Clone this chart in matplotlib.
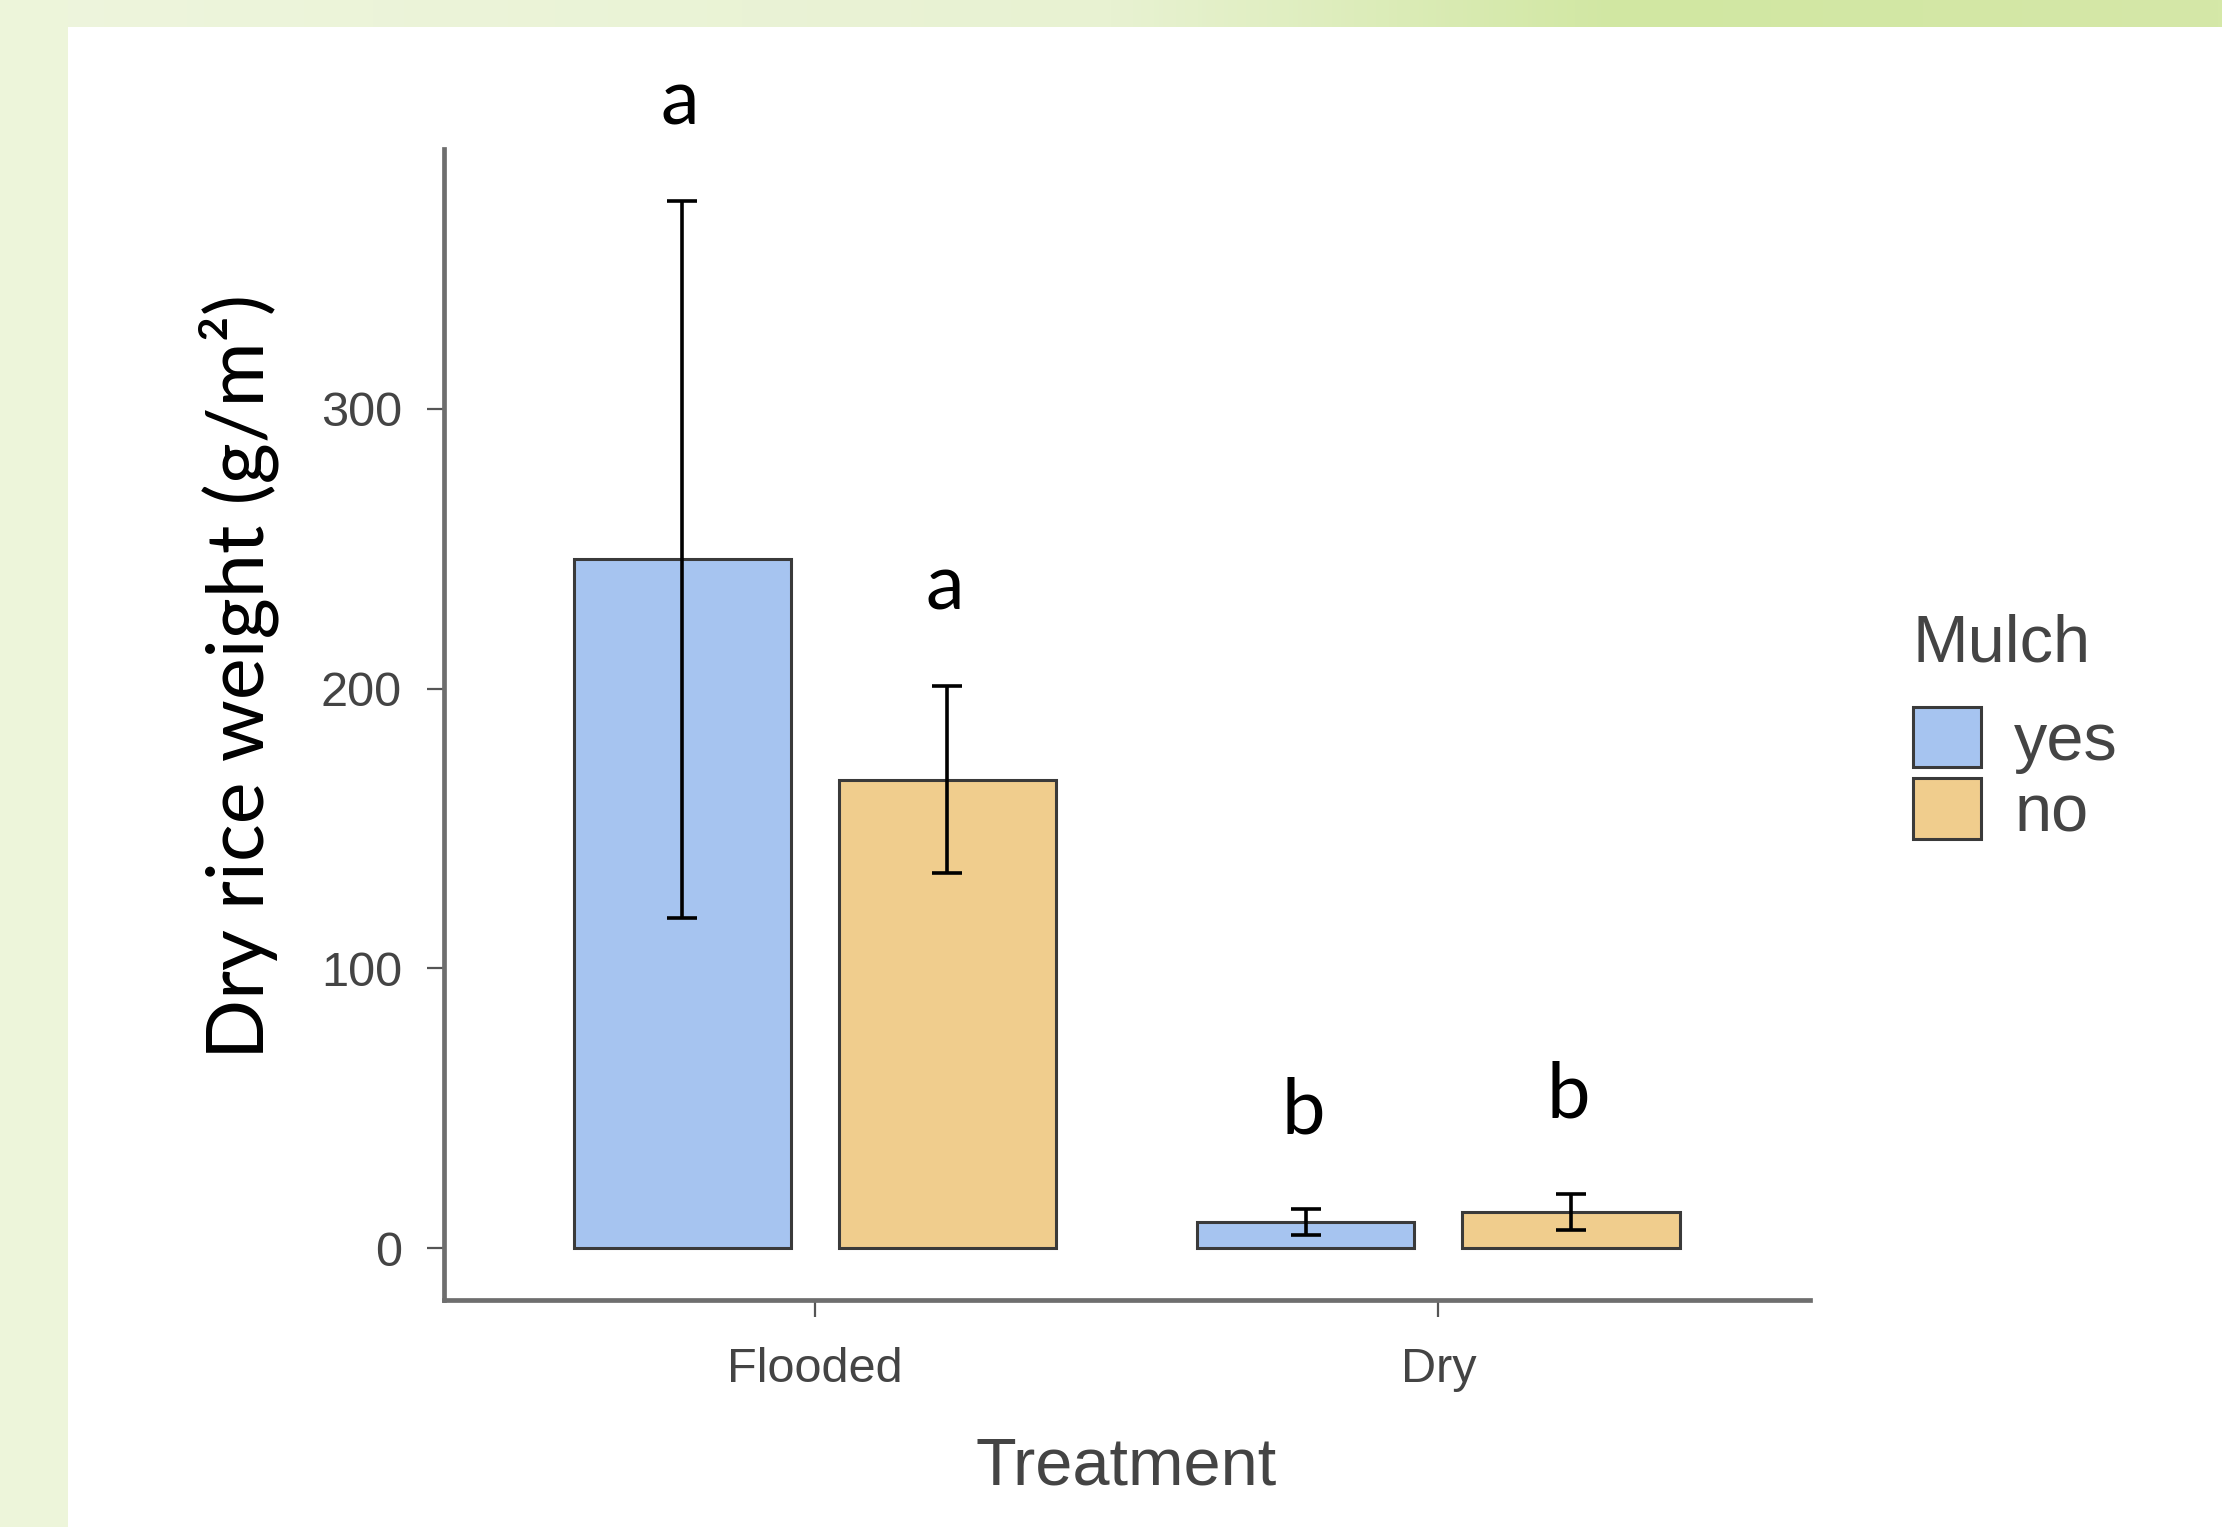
import numpy as np
import matplotlib
matplotlib.use("Agg")
import matplotlib.pyplot as plt
from matplotlib.patches import Rectangle, Patch

# data
treatments = ["Flooded", "Dry"]
mulch_levels = ["yes", "no"]
mean_yes = [246.3, 9.3]
se_yes = [128.2, 4.5]
mean_no = [167.5, 12.9]
se_no = [33.4, 6.3]
letters_yes = ["a", "b"]
letters_no = ["a", "b"]
yticks = [0, 100, 200, 300]

col_yes = "#A6C4F0"
col_no = "#F0CD8D"
edge = "#3a3a3a"
tick_font = "Liberation Sans"
label_font = "Lato"

W, H = 2222, 1527
fig = plt.figure(figsize=(W / 100, H / 100), dpi=100)

# slide-like background: gradient strip on top, flat strip on the left
bg = fig.add_axes([0, 0, 1, 1], zorder=-10)
bg.set_xlim(0, 1)
bg.set_ylim(0, 1)
bg.axis("off")
stops = [(0.0, "#EEF5DD"), (0.5, "#E8F2D2"), (0.73, "#D1E7A2"), (1.0, "#D5E8A8")]
xs = np.linspace(0, 1, 512)
rgb = np.array([matplotlib.colors.to_rgb(c) for _, c in stops])
pos = [p for p, _ in stops]
grad = np.stack([np.interp(xs, pos, rgb[:, k]) for k in range(3)], axis=-1)[None, :, :]
bg.imshow(grad, extent=[0, 1, 1 - 27 / H, 1], aspect="auto")
bg.add_patch(Rectangle((0, 0), 68 / W, 1, color="#EDF5DA", lw=0))

ax = fig.add_axes([443.6 / W, 1 - 1299.5 / H, 1366 / W, 1150.7 / H])
x = np.arange(len(treatments))
off, bw = 0.2125, 0.348

ax.bar(x - off, mean_yes, width=bw, color=col_yes, edgecolor=edge, linewidth=2.2, zorder=2)
ax.bar(x + off, mean_no, width=bw, color=col_no, edgecolor=edge, linewidth=2.2, zorder=2)
ax.errorbar(x - off, mean_yes, yerr=se_yes, fmt="none", ecolor="black",
            elinewidth=2.6, capsize=10.5, capthick=2.6, zorder=3)
ax.errorbar(x + off, mean_no, yerr=se_no, fmt="none", ecolor="black",
            elinewidth=2.6, capsize=10.5, capthick=2.6, zorder=3)

# significance letters above the error bars
for xi, m, s, l in zip(x - off, mean_yes, se_yes, letters_yes):
    ax.annotate(l, (xi, m + s), xytext=(-2, 55), textcoords="offset points",
                ha="center", va="baseline", fontsize=56, family=label_font,
                annotation_clip=False)
for xi, m, s, l in zip(x + off, mean_no, se_no, letters_no):
    ax.annotate(l, (xi, m + s), xytext=(-2, 55), textcoords="offset points",
                ha="center", va="baseline", fontsize=56, family=label_font,
                annotation_clip=False)

ax.set_xlim(-0.595, 1.595)
ax.set_ylim(-18.4, 393)
ax.set_xticks(x)
ax.set_xticklabels(treatments)
ax.set_yticks(yticks)
for s in ["top", "right"]:
    ax.spines[s].set_visible(False)
for s in ["left", "bottom"]:
    ax.spines[s].set_color("#6e6e6e")
    ax.spines[s].set_linewidth(3.4)
ax.tick_params(length=12, width=1.6, color="#555555", labelsize=35,
               labelcolor="#444444", pad=18)
ax.tick_params(axis="x", pad=22)
for t in ax.get_xticklabels() + ax.get_yticklabels():
    t.set_family(tick_font)

ax.set_xlabel("Treatment", fontsize=48, family=tick_font, color="#444444", labelpad=32)
ax.set_ylabel("Dry rice weight (g/m²)", fontsize=57, family=label_font, color="black")
ax.yaxis.label.set_va("baseline")
ax.yaxis.set_label_coords(-0.1317, 0.541)

handles = [Patch(facecolor=col_yes, edgecolor=edge, linewidth=2.2),
           Patch(facecolor=col_no, edgecolor=edge, linewidth=2.2)]
leg = ax.legend(handles, mulch_levels, title="Mulch", loc="upper left",
                bbox_to_anchor=(1913 / W, 1 - 613 / H), bbox_transform=fig.transFigure,
                frameon=False, borderpad=0, borderaxespad=0,
                handlelength=1.02, handleheight=1.02, handletextpad=0.5,
                labelspacing=0.0625, alignment="left",
                prop={"family": tick_font, "size": 48},
                title_fontproperties={"family": tick_font, "size": 48})
leg._legend_box.sep = 23  # extra room between title and keys
for t in leg.get_texts():
    t.set_color("#444444")
leg.get_title().set_color("#444444")

fig.savefig("out.png", dpi=100)
